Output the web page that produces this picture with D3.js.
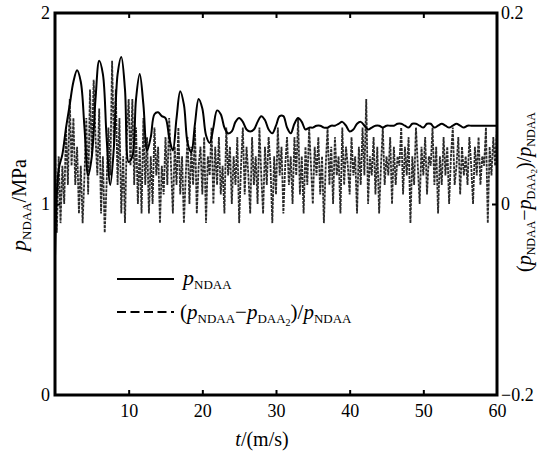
<!DOCTYPE html>
<html>
<head>
<meta charset="utf-8">
<script src="https://cdn.jsdelivr.net/npm/d3@7"></script>
<style>
  body { margin: 0; background: #fff; }
  svg, svg text { font-family: "Liberation Serif", "Times New Roman", Times, "DejaVu Serif", serif; }
</style>
</head>
<body>
<svg id="chart" width="542" height="455"></svg>
<script>
// time axis
var xTicks = [10, 20, 30, 40, 50, 60];
var yLeftTicks = [0, 1, 2];
var yRightTicks = [-0.2, 0, 0.2];

// p_NDAA (MPa), sampled every 0.5 s from 0 to 60 s
var pStep = 0.5;
var pNDAA = [
  0.72, 1.18, 1.26, 1.40, 1.52, 1.64, 1.70, 1.64, 1.40, 1.15,
  1.25, 1.55, 1.75, 1.68, 1.35, 1.10, 1.30, 1.68, 1.77, 1.60,
  1.22, 1.25, 1.55, 1.68, 1.52, 1.28, 1.35, 1.47, 1.48, 1.46,
  1.45, 1.35, 1.28, 1.45, 1.59, 1.52, 1.32, 1.27, 1.42, 1.55,
  1.50, 1.36, 1.32, 1.40, 1.49, 1.47, 1.40, 1.37, 1.38, 1.43,
  1.45, 1.43, 1.39, 1.38, 1.39, 1.43, 1.46, 1.44, 1.39, 1.37,
  1.41, 1.46, 1.46, 1.40, 1.37, 1.42, 1.45, 1.43, 1.39, 1.40,
  1.40, 1.41, 1.41, 1.40, 1.40, 1.41, 1.41, 1.42, 1.43, 1.41,
  1.38, 1.39, 1.42, 1.43, 1.41, 1.39, 1.40, 1.41, 1.41, 1.40,
  1.41, 1.41, 1.41, 1.42, 1.42, 1.41, 1.40, 1.42, 1.42, 1.41,
  1.40, 1.42, 1.42, 1.40, 1.41, 1.42, 1.41, 1.40, 1.41, 1.42,
  1.41, 1.40, 1.41, 1.41, 1.41, 1.41, 1.41, 1.41, 1.41, 1.41,
  1.41
];

// (p_NDAA - p_DAA2)/p_NDAA, sampled every 0.25 s from 0 to 60 s
var rStep = 0.25;
var ratio = [
  // 0 - 12 s
  0.06, -0.03, 0.05, -0.02, 0.04, 0.00, 0.08, 0.02, 0.11, 0.04,
  0.09, 0.02, 0.06, -0.01, 0.04, -0.02, 0.03, 0.09, 0.01, 0.12,
  0.05, 0.13, 0.07, 0.03, 0.10, -0.01, 0.05, -0.03, 0.02, 0.08,
  0.03, 0.15, 0.06, 0.12, 0.02, 0.09, -0.01, 0.05, -0.02, 0.07,
  0.11, 0.04, 0.11, 0.02, 0.08, 0.00, 0.06, -0.01, 0.09,
  // 12.25 - 17
  0.02, 0.07, -0.01, 0.05, 0.00, 0.08, 0.03, 0.06, -0.02, 0.04,
  0.01, 0.07, 0.02, 0.09, 0.04, -0.01, 0.06, 0.02, 0.08, 0.01,
  // 17.25 - 22
  0.05, -0.02, 0.03, 0.07, 0.00, 0.06, 0.02, 0.08, -0.01, 0.04,
  0.06, 0.01, 0.07, -0.02, 0.05, 0.03, 0.08, 0.00, 0.06, 0.02,
  // 22.25 - 27
  0.07, 0.01, 0.04, -0.01, 0.08, 0.03, 0.06, 0.00, 0.05, 0.02,
  0.07, -0.02, 0.04, 0.08, 0.01, 0.06, 0.03, -0.01, 0.07, 0.02,
  // 27.25 - 32
  0.05, 0.00, 0.08, 0.03, -0.01, 0.06, 0.02, 0.07, 0.04, -0.02,
  0.05, 0.01, 0.08, 0.03, 0.06, -0.01, 0.04, 0.07, 0.02, 0.05,
  // 32.25 - 37
  0.00, 0.07, 0.03, 0.09, 0.01, 0.05, -0.01, 0.06, 0.02, 0.08,
  0.04, 0.00, 0.06, 0.03, 0.07, 0.01, 0.05, -0.02, 0.04, 0.08,
  // 37.25 - 42
  0.02, 0.06, 0.00, 0.07, 0.03, 0.05, -0.01, 0.08, 0.02, 0.06,
  0.04, 0.01, 0.07, 0.03, 0.05, -0.01, 0.06, 0.02, 0.08, 0.03,
  // 42.25 - 47
  0.11, 0.00, 0.05, 0.03, 0.07, 0.01, 0.06, -0.01, 0.04, 0.08,
  0.02, 0.05, 0.03, 0.07, 0.00, 0.06, 0.02, 0.05, 0.04, 0.08,
  // 47.25 - 52
  0.01, 0.06, 0.03, 0.07, -0.02, 0.05, 0.02, 0.08, 0.04, 0.00,
  0.06, 0.03, 0.07, 0.01, 0.05, 0.04, 0.08, 0.02, 0.06, -0.01,
  // 52.25 - 57
  0.05, 0.02, 0.07, 0.03, 0.06, 0.00, 0.05, 0.08, 0.02, 0.04,
  0.07, 0.01, 0.06, 0.03, 0.05, 0.02, 0.07, 0.04, 0.00, 0.06,
  // 57.25 - 60
  0.03, 0.07, 0.02, 0.05, 0.04, 0.08, -0.02, 0.06, 0.03, 0.07,
  0.04, 0.08
];

// plot box
var box = {left: 55, right: 497, top: 13, bottom: 395};
var serif = "'Liberation Serif', 'Times New Roman', Times, serif";

var x = d3.scaleLinear().domain([0, 60]).range([box.left, box.right]);
var yL = d3.scaleLinear().domain([0, 2]).range([box.bottom, box.top]);
var yR = d3.scaleLinear().domain([-0.2, 0.2]).range([box.bottom, box.top]);

var svg = d3.select("#chart");

svg.append("clipPath").attr("id", "clip")
  .append("rect")
    .attr("x", box.left).attr("y", box.top)
    .attr("width", box.right - box.left).attr("height", box.bottom - box.top);

var plot = svg.append("g").attr("clip-path", "url(#clip)");

// noisy ratio series (dashed, very dense)
var rLine = d3.line()
    .x(function(d, i) { return x(i * rStep); })
    .y(function(d) { return yR(d); });

plot.append("path")
    .datum(ratio)
    .attr("d", rLine)
    .attr("fill", "none")
    .attr("stroke", "#2a2a2a")
    .attr("stroke-width", 1.8)
    .attr("stroke-dasharray", "3,1");

// p_NDAA
var pLine = d3.line()
    .curve(d3.curveCatmullRom)
    .x(function(d, i) { return x(i * pStep); })
    .y(function(d) { return yL(d); });

plot.append("path")
    .datum(pNDAA)
    .attr("d", pLine)
    .attr("fill", "none")
    .attr("stroke", "#000")
    .attr("stroke-width", 2);

// axes (ticks point inwards)
var xAxis = svg.append("g")
    .attr("transform", "translate(0," + box.bottom + ")")
    .call(d3.axisBottom(x).tickValues(xTicks).tickSize(-5).tickPadding(9));
var xTop = svg.append("g")
    .attr("transform", "translate(0," + box.top + ")")
    .call(d3.axisTop(x).tickValues(xTicks.slice(0, 5)).tickSize(-5).tickFormat(""));
var yAxisL = svg.append("g")
    .attr("transform", "translate(" + box.left + ",0)")
    .call(d3.axisLeft(yL).tickValues(yLeftTicks).tickSize(-5).tickPadding(5)
      .tickFormat(d3.format("d")));
var yAxisR = svg.append("g")
    .attr("transform", "translate(" + box.right + ",0)")
    .call(d3.axisRight(yR).tickValues(yRightTicks).tickSize(-5).tickPadding(4)
      .tickFormat(function(d) { return d === 0 ? "0" : d3.format(".1f")(d).replace("-", "\u2212"); }));

[xAxis, xTop, yAxisL, yAxisR].forEach(function(a) {
  a.attr("font-family", serif).attr("font-size", 18);
  a.select(".domain").remove();
  a.selectAll("line").attr("stroke", "#000").attr("stroke-width", 2);
  a.selectAll("text").attr("fill", "#000");
});
yAxisL.selectAll(".tick").filter(function(d) { return d === 0 || d === 2; }).select("line").remove();
yAxisR.selectAll(".tick").filter(function(d) { return d !== 0; }).select("line").remove();
xAxis.selectAll(".tick").filter(function(d) { return d === 60; }).select("line").remove();

// frame
svg.append("rect")
    .attr("x", box.left).attr("y", box.top)
    .attr("width", box.right - box.left).attr("height", box.bottom - box.top)
    .attr("fill", "none")
    .attr("stroke", "#000")
    .attr("stroke-width", 3);

// axis titles
svg.append("text")
    .attr("x", 262).attr("y", 446)
    .attr("text-anchor", "middle")
    .style("font-size", "20px")
    .call(function(t) {
      t.append("tspan").style("font-style", "italic").text("t");
      t.append("tspan").text("/(m/s)");
    });

svg.append("text")
    .attr("transform", "translate(26,205) rotate(-90)")
    .attr("text-anchor", "middle")
    .style("font-size", "22px")
    .call(function(t) {
      t.append("tspan").style("font-style", "italic").text("p");
      t.append("tspan").attr("dy", 5).style("font-size", "13px").text("NDAA");
      t.append("tspan").attr("dy", -5).style("font-size", "20px").text("/MPa");
    });

svg.append("text")
    .attr("transform", "translate(531,192) rotate(-90)")
    .attr("text-anchor", "middle")
    .style("font-size", "20px")
    .call(function(t) {
      t.append("tspan").text("(");
      t.append("tspan").style("font-style", "italic").text("p");
      t.append("tspan").attr("dy", 4).style("font-size", "12px").text("NDAA");
      t.append("tspan").attr("dy", -4).text("\u2212");
      t.append("tspan").style("font-style", "italic").text("p");
      t.append("tspan").attr("dy", 4).style("font-size", "12px").text("DAA");
      t.append("tspan").attr("dy", 2).style("font-size", "9px").text("2");
      t.append("tspan").attr("dy", -6).text(")/");
      t.append("tspan").style("font-style", "italic").text("p");
      t.append("tspan").attr("dy", 4).style("font-size", "12px").text("NDAA");
    });

// legend
var legend = svg.append("g");
legend.append("line")
    .attr("x1", 117).attr("x2", 174).attr("y1", 279).attr("y2", 279)
    .attr("stroke", "#000").attr("stroke-width", 2);
legend.append("line")
    .attr("x1", 117).attr("x2", 174).attr("y1", 312).attr("y2", 312)
    .attr("stroke", "#000").attr("stroke-width", 2)
    .attr("stroke-dasharray", "9,4.5");

legend.append("text")
    .attr("x", 183).attr("y", 285)
    .style("font-size", "22px")
    .call(function(t) {
      t.append("tspan").style("font-style", "italic").text("p");
      t.append("tspan").attr("dy", 4).style("font-size", "13px").text("NDAA");
    });

legend.append("text")
    .attr("x", 180).attr("y", 319)
    .style("font-size", "21px")
    .call(function(t) {
      t.append("tspan").text("(");
      t.append("tspan").style("font-style", "italic").text("p");
      t.append("tspan").attr("dy", 4).style("font-size", "13px").text("NDAA");
      t.append("tspan").attr("dy", -4).text("\u2212");
      t.append("tspan").style("font-style", "italic").text("p");
      t.append("tspan").attr("dy", 4).style("font-size", "13px").text("DAA");
      t.append("tspan").attr("dy", 3).style("font-size", "10px").text("2");
      t.append("tspan").attr("dy", -7).text(")/");
      t.append("tspan").style("font-style", "italic").text("p");
      t.append("tspan").attr("dy", 4).style("font-size", "13px").text("NDAA");
    });
</script>
</body>
</html>
